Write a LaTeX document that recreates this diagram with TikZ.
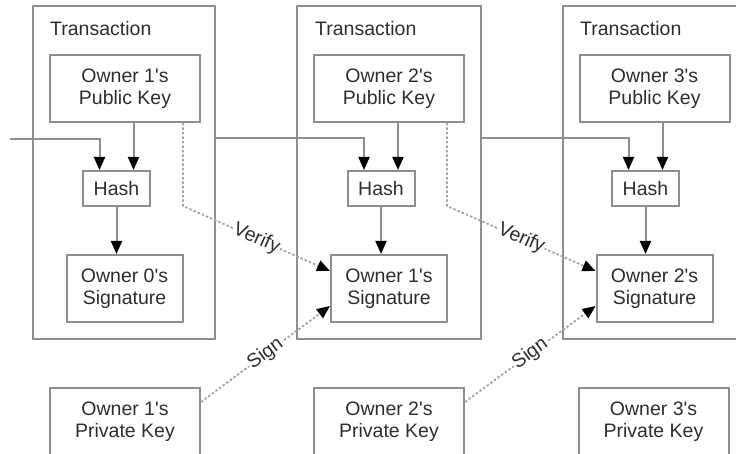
\documentclass[tikz,border=0pt]{standalone}
\usepackage{fontspec}
\setmainfont{Liberation Sans}
\usetikzlibrary{arrows.meta,calc}
\definecolor{linegray}{HTML}{8E8E8E}
\definecolor{dotgray}{HTML}{A6A6A6}
\definecolor{inkgray}{HTML}{2E2E2E}
\newcommand{\aps}{\textquotesingle}
\begin{document}
\begin{tikzpicture}[x=1pt,y=-1pt,
  every node/.style={font=\fontsize{19.5}{21.5}\selectfont, text=inkgray},
  txbox/.style={draw=linegray, line width=2pt, rectangle, minimum width=#1, minimum height=333, inner sep=0},
  keybox/.style={draw=linegray, line width=2pt, rectangle, minimum width=150, minimum height=67, align=center, inner sep=0},
  hashbox/.style={draw=linegray, line width=2pt, rectangle, minimum width=67, minimum height=35, inner sep=0},
  sigbox/.style={draw=linegray, line width=2pt, rectangle, minimum width=116, minimum height=67, align=center, inner sep=0},
  title/.style={anchor=base west, inner sep=0},
  conn/.style={draw=linegray, line width=2pt, -{Triangle[width=11pt,length=13pt,color=black]}},
  dotconn/.style={draw=dotgray, line width=1.8pt, dash pattern=on 2.5pt off 2pt, -{Triangle[width=11pt,length=13pt,color=black]}},
  tag/.style={fill=white, inner sep=1pt, sloped}
]
\clip (0,0) rectangle (736,454);
\useasboundingbox (0,0) rectangle (736,454);
\fill[white] (0,0) rectangle (736,454);

% transaction frames
\node[txbox=182] (tx1) at (124,172.5) {};
\node[txbox=184] (tx2) at (389,172.5) {};
\node[txbox=182] (tx3) at (654,172.5) {};
\node[title] (tt1) at (50,36) {Transaction};
\node[title] (tt2) at (315,36) {Transaction};
\node[title] (tt3) at (580,36) {Transaction};

% public keys
\node[keybox] (pk1) at (125,88.5) {Owner 1\aps s\\Public Key};
\node[keybox] (pk2) at (389,88.5) {Owner 2\aps s\\Public Key};
\node[keybox] (pk3) at (654.5,88.5) {Owner 3\aps s\\Public Key};

% hashes
\node[hashbox] (h1) at (116.5,188.5) {Hash};
\node[hashbox] (h2) at (381,188.5) {Hash};
\node[hashbox] (h3) at (645.5,188.5) {Hash};

% signatures
\node[sigbox] (s1) at (124.5,288.5) {Owner 0\aps s\\Signature};
\node[sigbox] (s2) at (389,288.5) {Owner 1\aps s\\Signature};
\node[sigbox] (s3) at (654.5,288.5) {Owner 2\aps s\\Signature};

% private keys
\node[keybox] (pr1) at (125,421.5) {Owner 1\aps s\\Private Key};
\node[keybox] (pr2) at (389,421.5) {Owner 2\aps s\\Private Key};
\node[keybox] (pr3) at (653.5,421.5) {Owner 3\aps s\\Private Key};

% hash inputs
\coordinate (in0) at (10,139);
\coordinate (r1) at ([yshift=-133pt]tx1.north east);
\coordinate (r2) at ([yshift=-133pt]tx2.north east);
\foreach \h/\src in {h1/in0, h2/r1, h3/r2} {
  \coordinate (\h l) at ([xshift=-17pt]\h.north);
  \coordinate (\h r) at ([xshift=17pt]\h.north);
  \draw[conn] (\src) -| (\h l);
}
\draw[conn] (pk1.south -| h1r) -- (h1r);
\draw[conn] (pk2.south -| h2r) -- (h2r);
\draw[conn] (pk3.south -| h3r) -- (h3r);
\draw[conn] (h1) -- (s1.north -| h1);
\draw[conn] (h2) -- (s2.north -| h2);
\draw[conn] (h3) -- (s3.north -| h3);

% verify links
\coordinate (v1) at ([xshift=58pt]pk1.south);
\coordinate (v2) at ([xshift=58pt]pk2.south);
\draw[dotconn] (v1) -- ++(0,83) -- node[tag] {Verify} ([yshift=17.5pt]s2.west);
\draw[dotconn] (v2) -- ++(0,83) -- node[tag] {Verify} ([yshift=17.5pt]s3.west);

% sign links
\draw[dotconn] ([yshift=19.5pt]pr1.east) -- node[tag] {Sign} ([yshift=-17.5pt]s2.west);
\draw[dotconn] ([yshift=19.5pt]pr2.east) -- node[tag] {Sign} ([yshift=-17.5pt]s3.west);
\end{tikzpicture}
\end{document}
